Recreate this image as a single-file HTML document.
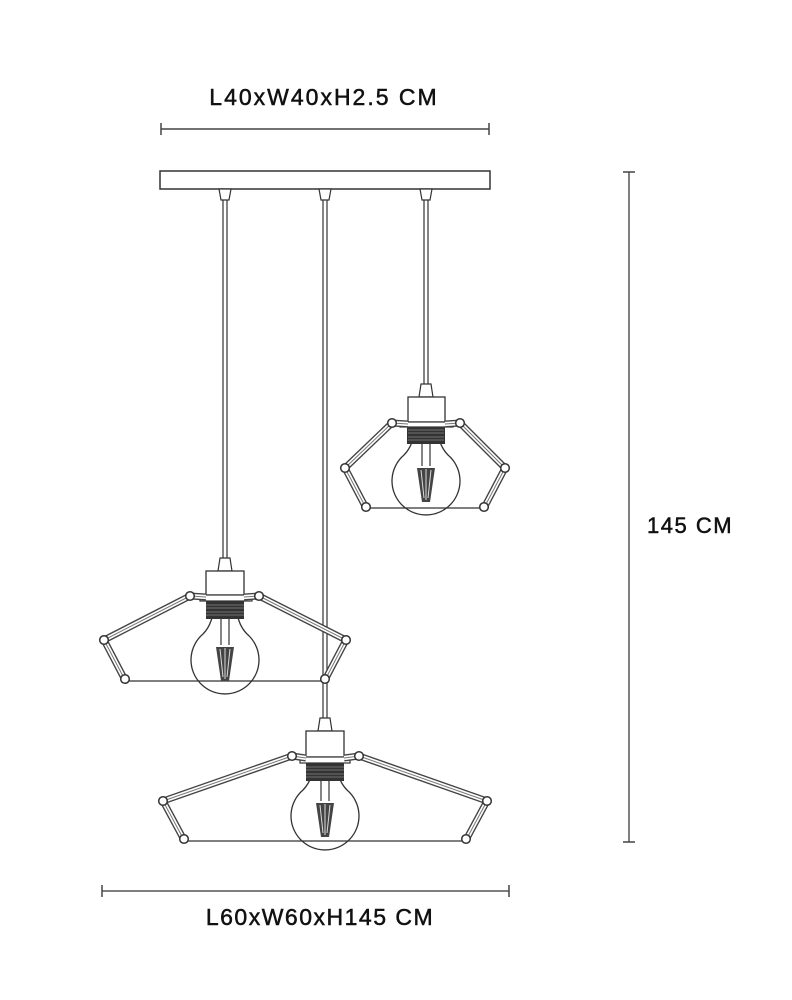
<!DOCTYPE html>
<html><head><meta charset="utf-8"><style>
html,body{margin:0;padding:0;background:#fff;}
svg{display:block}
text{font-family:"Liberation Sans",sans-serif;fill:#111;stroke:#111;stroke-width:0.5;}
</style></head><body>
<svg width="792" height="1000" viewBox="0 0 792 1000" xmlns="http://www.w3.org/2000/svg">
<defs>
<g id="bulb">
  <line x1="-4" y1="-52" x2="-4" y2="-16" stroke="#333" stroke-width="1.2"/>
  <line x1="4" y1="-52" x2="4" y2="-16" stroke="#333" stroke-width="1.2"/>
  <path d="M-10,-60 C-12,-45 -14,-35 -22,-27 A34,34 0 1 0 22,-27 C14,-35 12,-45 10,-60" fill="none" stroke="#333" stroke-width="1.3"/>
  <path d="M-9,-14 L-4,20 L4,20 L9,-14 Z" fill="#444"/>
  <path d="M-5,-12 L-2,16 M0,-13 L0,18 M5,-12 L2,16" stroke="#ddd" stroke-width="1"/>
</g>
</defs>

<text x="324" y="105" font-size="23" text-anchor="middle" letter-spacing="2">L40xW40xH2.5 CM</text>
<line x1="161" y1="129" x2="489" y2="129" stroke="#444" stroke-width="1.5"/>
<line x1="161" y1="123" x2="161" y2="135" stroke="#444" stroke-width="1.5"/>
<line x1="489" y1="123" x2="489" y2="135" stroke="#444" stroke-width="1.5"/>

<rect x="160" y="171" width="330" height="18" fill="#fff" stroke="#333" stroke-width="1.5"/>
<g fill="#fff" stroke="#333" stroke-width="1.2">
<path d="M219,189 L231,189 L229,200 L221,200 Z"/>
<path d="M319,189 L331,189 L329,200 L321,200 Z"/>
<path d="M420,189 L432,189 L430,200 L422,200 Z"/>
</g>
<g stroke="#333" stroke-width="1.2">
<line x1="223" y1="200" x2="223" y2="560"/><line x1="227" y1="200" x2="227" y2="560"/>
<line x1="323" y1="200" x2="323" y2="718"/><line x1="327" y1="200" x2="327" y2="718"/>
<line x1="424" y1="200" x2="424" y2="386"/><line x1="428" y1="200" x2="428" y2="386"/>
</g>

<!-- RIGHT LAMP -->
<g>
<path d="M421,384 L431,384 L433,397 L419,397 Z" fill="#fff" stroke="#333" stroke-width="1.2"/>
<rect x="408" y="397" width="37" height="25" fill="#fff" stroke="#333" stroke-width="1.3"/>
<line x1="366" y1="508" x2="484" y2="508" stroke="#333" stroke-width="1.3"/>
<use href="#bulb" x="426" y="482"/>
<rect x="400" y="422" width="53" height="5" fill="#fff" stroke="#333" stroke-width="1.2"/>
<rect x="407" y="427" width="38" height="17" fill="#333"/>
<path d="M408,430 H444 M408,433 H444 M408,437 H444 M408,440 H444" stroke="#888" stroke-width="0.8"/>
<g fill="none" stroke-linejoin="round">
<polyline points="408,424 392,423 345,468 366,508" stroke="#444" stroke-width="7"/>
<polyline points="408,424 392,423 345,468 366,508" stroke="#fff" stroke-width="4.2"/>
<polyline points="408,424 392,423 345,468 366,508" stroke="#777" stroke-width="1"/>
<polyline points="445,424 460,423 505,468 484,508" stroke="#444" stroke-width="7"/>
<polyline points="445,424 460,423 505,468 484,508" stroke="#fff" stroke-width="4.2"/>
<polyline points="445,424 460,423 505,468 484,508" stroke="#777" stroke-width="1"/>
</g>
<g fill="#fff" stroke="#333" stroke-width="1.5"><circle cx="392" cy="423" r="4.3"/><circle cx="345" cy="468" r="4.3"/><circle cx="366" cy="507" r="4.3"/><circle cx="460" cy="423" r="4.3"/><circle cx="505" cy="468" r="4.3"/><circle cx="484" cy="507" r="4.3"/></g>
</g>

<!-- LEFT LAMP -->
<g>
<path d="M220,558 L230,558 L232,571 L218,571 Z" fill="#fff" stroke="#333" stroke-width="1.2"/>
<rect x="206" y="571" width="38" height="24" fill="#fff" stroke="#333" stroke-width="1.3"/>
<line x1="125" y1="681" x2="325" y2="681" stroke="#333" stroke-width="1.3"/>
<use href="#bulb" x="225" y="661"/>
<rect x="200" y="595" width="52" height="6" fill="#fff" stroke="#333" stroke-width="1.2"/>
<rect x="206" y="601" width="38" height="18" fill="#333"/>
<path d="M206,605 H244 M206,608 H244 M206,612 H244 M206,615 H244" stroke="#888" stroke-width="0.8"/>
<g fill="none" stroke-linejoin="round">
<polyline points="206,597 190,596 104,640 125,680" stroke="#444" stroke-width="7"/>
<polyline points="206,597 190,596 104,640 125,680" stroke="#fff" stroke-width="4.2"/>
<polyline points="206,597 190,596 104,640 125,680" stroke="#777" stroke-width="1"/>
<polyline points="244,597 259,596 346,640 325,680" stroke="#444" stroke-width="7"/>
<polyline points="244,597 259,596 346,640 325,680" stroke="#fff" stroke-width="4.2"/>
<polyline points="244,597 259,596 346,640 325,680" stroke="#777" stroke-width="1"/>
</g>
<g fill="#fff" stroke="#333" stroke-width="1.5"><circle cx="190" cy="596" r="4.3"/><circle cx="104" cy="640" r="4.3"/><circle cx="125" cy="679" r="4.3"/><circle cx="259" cy="596" r="4.3"/><circle cx="346" cy="640" r="4.3"/><circle cx="325" cy="679" r="4.3"/></g>
</g>

<!-- BOTTOM LAMP -->
<g>
<path d="M320,718 L330,718 L332,731 L318,731 Z" fill="#fff" stroke="#333" stroke-width="1.2"/>
<rect x="306" y="731" width="38" height="26" fill="#fff" stroke="#333" stroke-width="1.3"/>
<line x1="184" y1="841" x2="466" y2="841" stroke="#333" stroke-width="1.3"/>
<use href="#bulb" x="325" y="817"/>
<rect x="300" y="757" width="50" height="6" fill="#fff" stroke="#333" stroke-width="1.2"/>
<rect x="306" y="763" width="38" height="18" fill="#333"/>
<path d="M306,767 H344 M306,770 H344 M306,774 H344 M306,777 H344" stroke="#888" stroke-width="0.8"/>
<g fill="none" stroke-linejoin="round">
<polyline points="306,758 292,756 163,801 184,840" stroke="#444" stroke-width="7"/>
<polyline points="306,758 292,756 163,801 184,840" stroke="#fff" stroke-width="4.2"/>
<polyline points="306,758 292,756 163,801 184,840" stroke="#777" stroke-width="1"/>
<polyline points="344,758 359,756 487,801 466,840" stroke="#444" stroke-width="7"/>
<polyline points="344,758 359,756 487,801 466,840" stroke="#fff" stroke-width="4.2"/>
<polyline points="344,758 359,756 487,801 466,840" stroke="#777" stroke-width="1"/>
</g>
<g fill="#fff" stroke="#333" stroke-width="1.5"><circle cx="292" cy="756" r="4.3"/><circle cx="163" cy="801" r="4.3"/><circle cx="184" cy="839" r="4.3"/><circle cx="359" cy="756" r="4.3"/><circle cx="487" cy="801" r="4.3"/><circle cx="466" cy="839" r="4.3"/></g>
</g>

<line x1="629" y1="172" x2="629" y2="842" stroke="#555" stroke-width="1.5"/>
<line x1="623" y1="172" x2="635" y2="172" stroke="#444" stroke-width="1.5"/>
<line x1="623" y1="842" x2="635" y2="842" stroke="#444" stroke-width="1.5"/>
<text x="647" y="533" font-size="22" letter-spacing="1.5">145 CM</text>

<line x1="102" y1="891" x2="509" y2="891" stroke="#555" stroke-width="1.5"/>
<line x1="102" y1="885" x2="102" y2="897" stroke="#444" stroke-width="1.5"/>
<line x1="509" y1="885" x2="509" y2="897" stroke="#444" stroke-width="1.5"/>
<text x="320" y="925" font-size="23" text-anchor="middle" letter-spacing="1.5">L60xW60xH145 CM</text>
</svg>
</body></html>
